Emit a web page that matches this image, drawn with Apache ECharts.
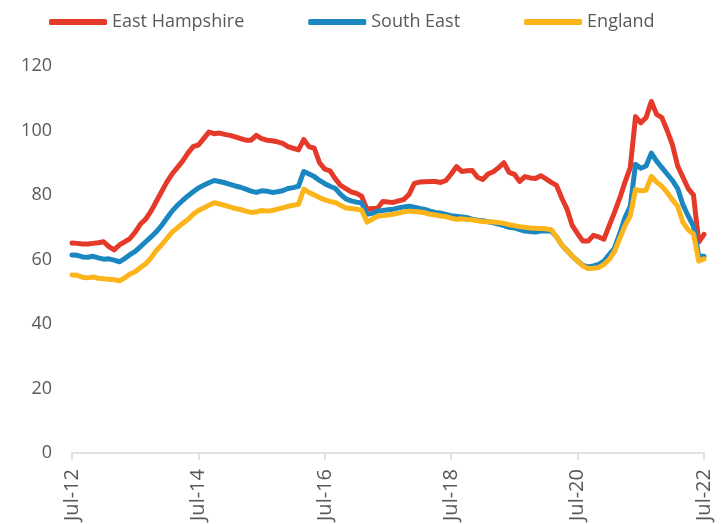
<!DOCTYPE html>
<html>
<head>
<meta charset="utf-8">
<script src="https://cdn.jsdelivr.net/npm/echarts@6/dist/echarts.min.js"></script>
<style>
html,body{margin:0;padding:0;background:#fff;}
#chart{width:724px;height:524px;}
</style>
</head>
<body>
<div id="chart"></div>
<script>
// Monthly series, Jul-12 .. Jul-22
const seriesNames = ['East Hampshire', 'South East', 'England'];
const tickLabels = ['Jul-12', 'Jul-14', 'Jul-16', 'Jul-18', 'Jul-20', 'Jul-22'];
const monthNames = ['Jan','Feb','Mar','Apr','May','Jun','Jul','Aug','Sep','Oct','Nov','Dec'];

const eastHampshire = [
  65.1, 65.0, 64.8, 64.8, 65.0, 65.2, 65.5, 64.0, 63.0, 64.5, 65.5, 66.5,
  68.5, 71.0, 72.5, 75.0, 78.0, 81.0, 84.0, 86.5, 88.5, 90.5, 93.0, 95.0,
  95.5, 97.5, 99.5, 99.0, 99.2, 98.8, 98.5, 98.0, 97.5, 97.0, 97.0, 98.5,
  97.5, 97.0, 96.8, 96.5, 96.0, 95.0, 94.5, 94.0, 97.2, 95.0, 94.5, 90.0,
  88.0, 87.5, 85.0, 83.0, 82.0, 81.0, 80.5, 79.6, 75.6, 75.8, 75.9, 78.0,
  77.8, 77.7, 78.2, 78.6, 80.2, 83.6, 84.0, 84.1, 84.2, 84.2, 83.9, 84.5,
  86.5, 88.8, 87.3, 87.5, 87.6, 85.5, 84.8, 86.5, 87.2, 88.5, 90.0, 87.0,
  86.4, 84.2, 85.7, 85.3, 85.1, 86.0, 85.0, 83.9, 83.0, 79.0, 75.6, 70.5,
  68.0, 65.7, 65.7, 67.5, 67.0, 66.3, 70.5, 74.6, 79.0, 84.0, 88.5, 104.3,
  102.4, 104.0, 109.0, 105.0, 104.0, 100.0, 95.6, 89.0, 85.5, 82.0, 80.0,
  65.4, 67.8
];
const southEast = [
  61.4, 61.3, 60.8, 60.7, 61.0, 60.5, 60.1, 60.2, 59.8, 59.3, 60.3, 61.5,
  62.5, 64.0, 65.5, 67.0, 68.6, 70.5, 72.8, 75.0, 76.8, 78.3, 79.7, 81.0,
  82.2, 83.0, 83.8, 84.5, 84.2, 83.8, 83.3, 82.8, 82.4, 81.8, 81.2, 80.8,
  81.3, 81.2, 80.8, 81.0, 81.3, 82.0, 82.3, 82.7, 87.3, 86.5, 85.7, 84.5,
  83.5, 82.7, 82.0, 80.2, 78.8, 78.2, 77.8, 77.5, 74.0, 74.3, 75.0, 75.2,
  75.4, 75.6, 76.0, 76.3, 76.5, 76.2, 75.8, 75.5, 75.0, 74.6, 74.4, 74.0,
  73.6, 73.4, 73.2, 73.0, 72.5, 72.2, 72.0, 71.7, 71.4, 71.0, 70.5, 70.0,
  69.8, 69.3, 68.8, 68.7, 68.5, 68.8, 68.9, 68.8, 67.0, 64.5, 62.8, 61.0,
  59.6, 58.2, 57.7, 58.0, 58.5, 59.5, 61.5, 63.5, 68.0, 73.0, 76.5, 89.5,
  88.3, 89.0, 93.0, 90.5, 88.5, 86.5, 84.5, 82.0, 77.0, 73.5, 70.3,
  61.0, 61.0
];
const england = [
  55.2, 55.1, 54.5, 54.3, 54.6, 54.2, 54.0, 53.9, 53.7, 53.4, 54.3, 55.5,
  56.2, 57.5, 58.7, 60.5, 62.8, 64.5, 66.5, 68.5, 69.8, 71.2, 72.4, 74.0,
  75.2, 76.0, 76.8, 77.6, 77.2, 76.8, 76.3, 75.8, 75.5, 75.0, 74.6, 74.7,
  75.2, 75.0, 75.2, 75.6, 76.0, 76.5, 76.8, 77.1, 81.8, 80.8, 80.0, 79.2,
  78.5, 78.0, 77.7, 76.8, 76.0, 75.8, 75.6, 75.3, 71.6, 72.5, 73.4, 73.6,
  73.8, 74.0, 74.4, 74.8, 75.0, 74.9, 74.7, 74.5, 74.0, 73.8, 73.5, 73.3,
  72.8, 72.5, 72.6, 72.4, 72.3, 72.0, 71.8, 71.7, 71.6, 71.5, 71.2, 70.8,
  70.5, 70.2, 70.0, 69.8, 69.7, 69.6, 69.5, 69.2, 67.0, 64.5, 62.8, 61.0,
  59.5, 58.0, 57.2, 57.3, 57.5, 58.5, 60.0, 62.5, 66.5, 70.5, 73.5, 81.7,
  81.3, 81.5, 85.8, 84.0, 82.7, 80.8, 78.5, 76.5, 71.5, 69.2, 67.9,
  59.5, 60.2
];

const colors = ['#E5392A', '#1B87C1', '#FBB51B'];

// category labels: one per month from Jul-12
const categories = [];
for (let i = 0; i < eastHampshire.length; i++) {
  const m = (6 + i) % 12;
  const y = 12 + Math.floor((6 + i) / 12);
  categories.push(monthNames[m] + '-' + String(y).padStart(2, '0'));
}

const chart = echarts.init(document.getElementById('chart'), null, {renderer: 'canvas'});
const font = '"Open Sans", "Noto Sans", sans-serif';
const data = [eastHampshire, southEast, england];

chart.setOption({
  animation: false,
  color: colors,
  textStyle: {fontFamily: font},
  legend: {
    left: 44,
    top: 8,
    icon: 'roundRect',
    itemWidth: 58,
    itemHeight: 6,
    itemGap: 64,
    textStyle: {fontSize: 18, color: '#595959', fontFamily: font},
    data: seriesNames
  },
  grid: {left: 72, right: 20, top: 66, bottom: 69, containLabel: false},
  xAxis: {
    type: 'category',
    boundaryGap: false,
    data: categories,
    axisLine: {lineStyle: {color: '#D9D9D9', width: 1.5}},
    axisTick: {
      show: true, length: 7, lineStyle: {color: '#D9D9D9', width: 1.5},
      interval: function (idx, val) { return tickLabels.indexOf(val) >= 0; }
    },
    axisLabel: {
      rotate: 90, fontSize: 20, color: '#595959', margin: 16, fontFamily: font,
      interval: function (idx, val) { return tickLabels.indexOf(val) >= 0; }
    }
  },
  yAxis: {
    type: 'value',
    min: 0, max: 120, interval: 20,
    axisLine: {show: false},
    axisTick: {show: false},
    splitLine: {show: false},
    axisLabel: {fontSize: 18, color: '#595959', margin: 20, fontFamily: font}
  },
  series: seriesNames.map((n, k) => ({
    name: n,
    type: 'line',
    data: data[k],
    showSymbol: false,
    symbol: 'none',
    lineStyle: {width: 5, color: colors[k], cap: 'round', join: 'round'},
    itemStyle: {color: colors[k]},
    z: 2 + k
  }))
});
</script>
</body>
</html>
